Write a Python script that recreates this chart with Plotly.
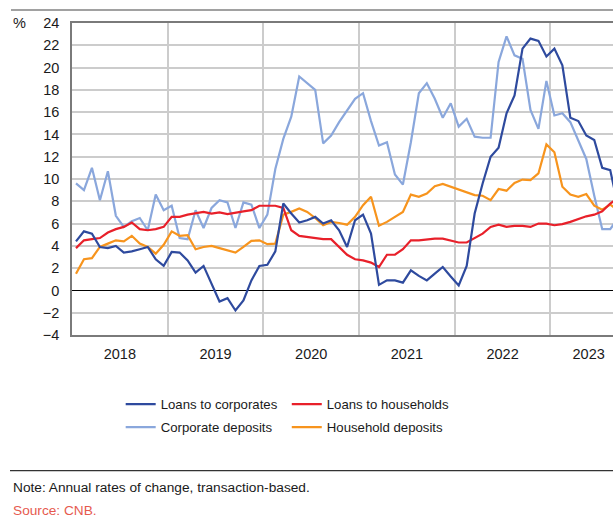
import plotly.graph_objects as go

# Monthly data, Jan 2018 onward (index 0 = Jan 2018)
loans_corporates = [4.4, 5.3, 5.1, 3.9, 3.8, 4.0, 3.4, 3.5, 3.7, 3.9, 2.8, 2.2,
                    3.45, 3.4, 2.7, 1.6, 2.2, 0.6, -1.0, -0.7, -1.8, -0.9, 0.9, 2.2,
                    2.3, 3.5, 7.8, 6.9, 6.1, 6.3, 6.6, 6.0, 6.3, 5.4, 3.9, 6.3,
                    6.8, 5.1, 0.5, 0.9, 0.9, 0.7, 1.8, 1.3, 0.9, 1.5, 2.1, 1.25,
                    0.45, 2.2, 6.9, 9.6, 12.0, 12.8, 15.9, 17.5, 21.7, 22.6, 22.4, 21.0,
                    21.7, 20.2, 15.5, 15.2, 13.9, 13.5, 11.0, 10.8, 7.5]
loans_households = [3.8, 4.5, 4.6, 4.7, 5.2, 5.5, 5.7, 6.1, 5.5, 5.4, 5.5, 5.7,
                    6.6, 6.6, 6.8, 6.9, 7.05, 6.9, 7.0, 6.85, 7.0, 7.1, 7.2, 7.6,
                    7.6, 7.6, 7.4, 5.4, 4.9, 4.8, 4.7, 4.6, 4.6, 3.9, 3.2, 2.8,
                    2.7, 2.5, 2.1, 3.2, 3.2, 3.7, 4.5, 4.5, 4.6, 4.65, 4.65, 4.45,
                    4.3, 4.3, 4.7, 5.1, 5.7, 5.9, 5.7, 5.8, 5.8, 5.7, 6.0, 6.0,
                    5.85, 5.95, 6.15, 6.4, 6.65, 6.8, 7.1, 7.8, 8.3]
corporate_deposits = [9.6, 9.0, 11.0, 8.1, 10.7, 6.7, 5.7, 6.2, 6.5, 5.4, 8.6, 7.2,
                      7.6, 4.7, 4.6, 7.2, 5.6, 7.4, 8.1, 7.9, 5.6, 7.9, 7.7, 5.6,
                      6.8, 10.9, 13.6, 15.6, 19.2, 18.6, 18.0, 13.2, 13.9, 15.1, 16.2, 17.2,
                      17.7, 15.2, 13.0, 13.3, 10.4, 9.5, 13.3, 17.7, 18.6, 17.2, 15.5, 16.8,
                      14.7, 15.4, 13.8, 13.7, 13.7, 20.5, 22.8, 21.1, 20.8, 16.2, 14.5, 18.8,
                      15.7, 15.9, 15.1, 13.5, 11.8, 8.5, 5.5, 5.5, 6.5]
household_deposits = [1.5, 2.8, 2.9, 3.9, 4.2, 4.5, 4.4, 4.9, 4.2, 3.9, 3.3, 4.1,
                      5.3, 4.9, 4.95, 3.7, 3.9, 4.0, 3.8, 3.6, 3.4, 3.9, 4.45, 4.5,
                      4.15, 4.2, 6.8, 7.05, 7.35, 7.05, 6.5, 5.85, 6.15, 6.05, 5.9, 6.6,
                      7.65, 8.4, 5.8, 6.15, 6.6, 7.05, 8.6, 8.4, 8.7, 9.35, 9.55, 9.3,
                      9.05, 8.85, 8.55, 8.5, 8.1, 9.1, 8.95, 9.65, 9.95, 9.9, 10.5, 13.1,
                      12.4, 9.3, 8.6, 8.4, 8.65, 7.6, 7.25, 7.7, 7.2]
year_labels = ["2018", "2019", "2020", "2021", "2022", "2023"]

months = list(range(len(loans_corporates)))

FONT_C = "Liberation Sans Narrow, Arial Narrow, Liberation Sans, Arial, sans-serif"
FONT_N = "Liberation Sans, Arial, Helvetica, sans-serif"

fig = go.Figure()
# (name, values, colour, legend id, rank within legend)
series = [
    ("Corporate deposits", corporate_deposits, "#8aa7dc", "legend", 2),
    ("Household deposits", household_deposits, "#f7941d", "legend2", 2),
    ("Loans to households", loans_households, "#e8202a", "legend2", 1),
    ("Loans to corporates", loans_corporates, "#2e4a9e", "legend", 1),
]
for name, vals, col, leg, rank in series:
    fig.add_trace(go.Scatter(x=months, y=vals, mode="lines", name=name,
                             line=dict(color=col, width=2.2), legend=leg,
                             legendgroup=name, legendrank=rank,
                             cliponaxis=True, hoverinfo="skip"))

# year tick positions: middle of each year, last (partial) year centred on its visible part
year_ticks = [5.5 + 12 * k for k in range(len(year_labels) - 1)] + [64.3]

leg_common = dict(orientation="v", yanchor="top", traceorder="grouped",
                  font=dict(family=FONT_C, size=13.2, color="#1a1a1a"),
                  itemwidth=30, bgcolor="rgba(0,0,0,0)", tracegroupgap=3,
                  xanchor="left")

fig.update_layout(
    width=613, height=518,
    margin=dict(l=72, r=0, t=23, b=183),
    paper_bgcolor="white", plot_bgcolor="white",
    font=dict(family=FONT_C, size=14.5, color="#1a1a1a"),
    showlegend=True,
    legend=dict(x=0.090, y=-0.173, **leg_common),
    legend2=dict(x=0.397, y=-0.173, **leg_common),
    xaxis=dict(range=[-0.5, 67.35], tickmode="array",
               tickvals=year_ticks, ticktext=year_labels,
               showgrid=False, zeroline=False, ticklabeloverflow="allow",
               ticks="", ticklabelstandoff=5,
               showline=True, linecolor="#7a7a7a", linewidth=1.5, mirror=True,
               minor=dict(tickmode="array", tickvals=[11.5 + 12 * k for k in range(5)],
                          showgrid=True, gridcolor="#cccccc", gridwidth=1.5, ticks=""),
               tickfont=dict(family=FONT_C, size=14.5, color="#1a1a1a")),
    yaxis=dict(range=[-4, 24], tickmode="linear", tick0=-4, dtick=2,
               showgrid=True, gridcolor="#cccccc", gridwidth=1.5,
               zeroline=True, zerolinecolor="#000000", zerolinewidth=1.2,
               showline=True, linecolor="#7a7a7a", linewidth=1.5,
               ticks="", ticklabelstandoff=8,
               tickfont=dict(family=FONT_C, size=14.5, color="#1a1a1a")),
)

# header rule and footer rule
fig.add_shape(type="line", xref="paper", yref="paper", x0=-0.1128, x1=1.0,
              y0=1.0417, y1=1.0417, line=dict(color="#444444", width=1.2))
fig.add_shape(type="line", xref="paper", yref="paper", x0=-0.1146, x1=1.0,
              y0=-0.435, y1=-0.435, line=dict(color="#333333", width=1.2))

fig.add_annotation(text="%", xref="paper", yref="y", x=-0.1128, y=24,
                   xanchor="left", yanchor="middle", showarrow=False,
                   font=dict(family=FONT_C, size=14.5, color="#1a1a1a"))
fig.add_annotation(text="Note: Annual rates of change, transaction-based.",
                   xref="paper", yref="paper", x=-0.113, y=-0.490,
                   xanchor="left", yanchor="middle", showarrow=False,
                   font=dict(family=FONT_N, size=13.7, color="#1a1a1a"))
fig.add_annotation(text="Source: CNB.",
                   xref="paper", yref="paper", x=-0.113, y=-0.564,
                   xanchor="left", yanchor="middle", showarrow=False,
                   font=dict(family=FONT_N, size=13.7, color="#e65a4f"))

fig.write_html("out.html", config={"displayModeBar": False},
               post_script="document.body.style.margin='0';document.body.style.padding='0';")
